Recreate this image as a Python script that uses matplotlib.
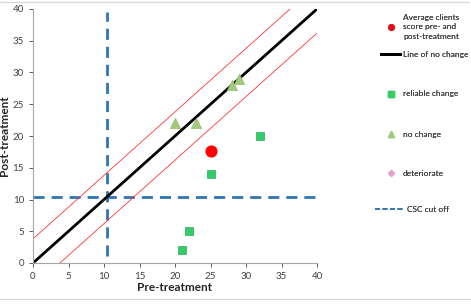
import matplotlib.pyplot as plt
from matplotlib.lines import Line2D

plt.rcParams['font.family'] = ['Lato', 'DejaVu Sans']

# data
reliable_x = [21, 22, 25, 32]
reliable_y = [2, 5, 14, 20]
nochange_x = [20, 23, 28, 29]
nochange_y = [22, 22, 28, 29]
avg_x = [25]
avg_y = [17.7]
deter_x = []
deter_y = []
no_change_line = [0, 40]
rci_offset = 3.8
csc_cut = 10.4

fig = plt.figure(figsize=(4.71, 3.05), dpi=100)
ax = fig.add_axes([33 / 471, 1 - 263 / 305, 284 / 471, 254 / 305])

blue = '#2E75B6'
ax.plot([csc_cut, csc_cut], [1.1, 39.6], color=blue, lw=2, dashes=(4, 2.5))
ax.plot([0, 40], [csc_cut, csc_cut], color=blue, lw=2, dashes=(4, 2.5))
ax.plot([0, 40 - rci_offset], [rci_offset, 40], color='#FF3333', lw=0.6)
ax.plot([rci_offset, 40], [0, 40 - rci_offset], color='#FF3333', lw=0.6)
ax.plot(no_change_line, no_change_line, color='black', lw=2)

ax.scatter(reliable_x, reliable_y, marker='s', s=38, color='#33CC66',
           edgecolors='#2EAA5A', linewidths=0.5, zorder=3)
ax.scatter(nochange_x, nochange_y, marker='^', s=55, color='#A3C97E',
           edgecolors='#96BD6F', linewidths=0.5, zorder=3)
ax.scatter(avg_x, avg_y, marker='o', s=60, color='#FF0000', zorder=4)
ax.scatter(deter_x, deter_y, marker='D', s=12, color='#E8A2C8')

ax.set_xlim(0, 40)
ax.set_ylim(0, 40)
ax.set_xticks(range(0, 41, 5))
ax.set_yticks(range(0, 41, 5))
ax.tick_params(labelsize=7, colors='#404040', length=3, width=0.6)
for s in ['top', 'right']:
    ax.spines[s].set_visible(False)
for s in ['left', 'bottom']:
    ax.spines[s].set_color('#A6A6A6')
    ax.spines[s].set_linewidth(0.8)
ax.set_xlabel('Pre-treatment', fontsize=8.5, fontweight='bold', color='#262626', labelpad=1)
ax.set_ylabel('Post-treatment', fontsize=8.5, fontweight='bold', color='#262626', labelpad=2)

# legend entries placed one by one (Excel style spacing)
fs = 6
px = fs * 100 / 72  # one font size in pixels
h_avg = Line2D([], [], ls='none', marker='o', ms=4, color='#E0101A')
h_line = Line2D([], [], color='black', lw=2)
h_sq = Line2D([], [], ls='none', marker='s', ms=4, color='#33CC66')
h_tri = Line2D([], [], ls='none', marker='^', ms=4, color='#A3C97E')
h_det = Line2D([], [], ls='none', marker='D', ms=3, color='#E8A2C8')
h_csc = Line2D([], [], color=blue, lw=1.2, dashes=(3, 1.5))
# handle, label, y pixel, handle start x pixel, text start x pixel
entries = [
    (h_avg, 'Average clients\nscore pre- and\npost-treatment', 27, 387, 403),
    (h_line, 'Line of no change', 54, 381, 403),
    (h_sq, 'reliable change', 94, 387, 403),
    (h_tri, 'no change', 134, 387, 403),
    (h_det, 'deteriorate', 173, 387, 403),
    (h_csc, 'CSC cut off', 209, 375, 407),
]
for h, lab, ypix, x0, xt in entries:
    if lab.startswith('Line') or lab.startswith('CSC'):
        hl = (xt - x0 - 3) / px
    else:
        hl = 8 / px
    pad = (xt - x0) / px - hl
    leg = fig.legend([h], [lab], loc='center left', frameon=False,
                     bbox_to_anchor=(x0 / 471, 1 - ypix / 305),
                     fontsize=fs, handlelength=hl, handletextpad=pad,
                     borderpad=0, borderaxespad=0, labelcolor='#404040')
    leg.get_texts()[0].set_linespacing(1.4)
    fig.add_artist(leg)

# thin grey rules at top and bottom of the image
fig.add_artist(Line2D([0, 0.995], [1 - 1.5 / 305] * 2, color='#D9D9D9', lw=1))
fig.add_artist(Line2D([0, 0.998], [1 - 298.5 / 305] * 2, color='#D9D9D9', lw=1))

plt.savefig('out.png', dpi=100)
